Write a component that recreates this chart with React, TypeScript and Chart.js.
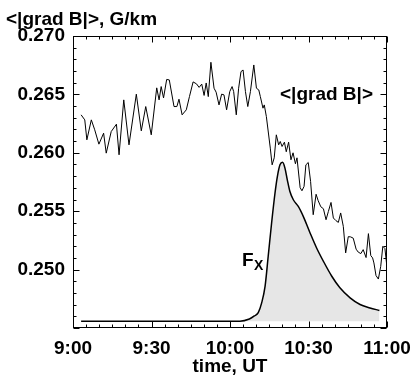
import React, { useEffect, useRef } from 'react';
import { Chart, registerables } from 'chart.js';

Chart.register(...registerables);

// time in minutes after 9:00 UT
const gradTime = [
  3.1, 4.5, 5.3, 7.0, 8.3, 9.9, 11.7, 12.7, 14.6, 16.6,
  17.6, 19.4, 21.4, 24.2, 26.1, 27.8, 29.9, 32.0, 32.9, 33.7,
  34.6, 35.8, 36.8, 38.6, 39.7, 40.5, 41.7, 43.3, 44.5, 45.9,
  47.2, 48.2, 49.2, 50.1, 50.9, 51.7, 52.7, 53.9, 54.7, 55.8,
  56.8, 57.7, 58.7, 59.9, 60.8, 61.4, 62.4, 63.3, 64.2, 65.0,
  65.9, 66.8, 67.8, 69.1, 70.1, 71.0, 71.6, 72.6, 73.1, 73.9,
  75.4, 76.1, 76.9, 77.7, 78.6, 79.2, 79.9, 80.8, 81.5, 82.4,
  83.3, 84.1, 85.0, 85.6, 86.8, 87.5, 88.3, 89.0, 89.9, 90.8,
  91.8, 92.9, 93.7, 94.7, 95.7, 96.7, 97.6, 98.6, 99.5, 100.5,
  101.4, 102.3, 103.3, 104.2, 105.2, 106.1, 107.1, 108.2, 109.0, 110.0,
  110.9, 112.0, 112.9, 113.8, 114.5, 115.0, 115.8, 116.7, 117.6, 118.4,
  119.2, 120.0,
];

const gradValue = [
  0.26325, 0.26282, 0.26111, 0.26282, 0.26197, 0.26074, 0.26168, 0.25997, 0.26182, 0.26245,
  0.25983, 0.26453, 0.26068, 0.26502, 0.26188, 0.26396, 0.26154, 0.26556, 0.26453, 0.26567,
  0.26470, 0.26628, 0.26624, 0.26396, 0.26396, 0.26459, 0.26325, 0.26368, 0.26481, 0.26607,
  0.26590, 0.26560, 0.26588, 0.26491, 0.26598, 0.26481, 0.26775, 0.26553, 0.26519, 0.26410,
  0.26502, 0.26496, 0.26368, 0.26524, 0.26567, 0.26524, 0.26325, 0.26553, 0.26695, 0.26709,
  0.26524, 0.26396, 0.26524, 0.26752, 0.26553, 0.26538, 0.26481, 0.26382, 0.26410, 0.26310,
  0.26040, 0.25897, 0.25957, 0.26154, 0.26068, 0.26097, 0.26054, 0.26091, 0.26009, 0.26091,
  0.25940, 0.26000, 0.25906, 0.25957, 0.25701, 0.25675, 0.25712, 0.25897, 0.25917, 0.25755,
  0.25470, 0.25645, 0.25590, 0.25538, 0.25521, 0.25427, 0.25498, 0.25575, 0.25442, 0.25419,
  0.25404, 0.25485, 0.25370, 0.25143, 0.25282, 0.25280, 0.25269, 0.25175, 0.25150, 0.25137,
  0.25171, 0.25103, 0.25308, 0.25120, 0.25100, 0.25057, 0.24949, 0.24919, 0.25028, 0.25199,
  0.25180, 0.25017,
];

const fxTime = [
  3.1, 63.8, 67.4, 69.3, 70.8, 72.1, 73.4, 74.6, 75.9, 77.2,
  78.1, 79.1, 80.1, 81.0, 81.9, 82.9, 84.2, 86.1, 88.0, 90.6,
  93.1, 95.7, 98.9, 102.0, 105.9, 109.7, 113.5, 117.1,
];

const fxValue = [
  0.24558, 0.24558, 0.24577, 0.24603, 0.24632, 0.24715, 0.24857, 0.25114, 0.25399, 0.25656,
  0.25797, 0.25897, 0.25919, 0.25869, 0.25769, 0.25669, 0.25598, 0.25541, 0.25456, 0.25314,
  0.25185, 0.25071, 0.24943, 0.24844, 0.24758, 0.24701, 0.24672, 0.24650,
];

const xTickLabels = ['9:00', '9:30', '10:00', '10:30', '11:00'];
const yTickLabels = ['0.250', '0.255', '0.260', '0.265', '0.270'];

const TITLE = '<|grad B|>, G/km';
const X_TITLE = 'time, UT';
const GRAD_LABEL = '<|grad B|>';
const FX_LABEL = 'F';
const FX_SUB = 'X';

const X_MIN = 0, X_MAX = 120, X_STEP = 30, X_MINOR = 5;
const Y_MIN = 0.245, Y_MAX = 0.270, Y_STEP = 0.005, Y_MINOR = 0.001;

const FONT = "'Liberation Sans', Arial, Helvetica, sans-serif";

const framePlugin = {
  id: 'frameTicks',
  afterDatasetsDraw(chart: any) {
    const { ctx, chartArea: a, scales } = chart;
    const xs = scales.x;
    const ys = scales.y;
    ctx.save();
    ctx.strokeStyle = '#000';
    ctx.lineWidth = 1;
    const L = Math.round(a.left) + 0.5;
    const R = Math.round(a.right) - 0.5;
    const T = Math.round(a.top) + 0.5;
    const B = Math.round(a.bottom) - 0.5;
    ctx.strokeRect(L, T, R - L, B - T);
    ctx.beginPath();
    const nx = Math.round((X_MAX - X_MIN) / X_MINOR);
    const perMajorX = Math.round(X_STEP / X_MINOR);
    for (let i = 0; i <= nx; i++) {
      const px = Math.round(xs.getPixelForValue(X_MIN + i * X_MINOR)) + 0.5;
      const len = i % perMajorX === 0 ? 6 : 3;
      ctx.moveTo(px, B);
      ctx.lineTo(px, B - len);
      ctx.moveTo(px, T);
      ctx.lineTo(px, T + len);
    }
    const ny = Math.round((Y_MAX - Y_MIN) / Y_MINOR);
    const perMajorY = Math.round(Y_STEP / Y_MINOR);
    for (let i = 0; i <= ny; i++) {
      const py = Math.round(ys.getPixelForValue(Y_MIN + i * Y_MINOR)) + 0.5;
      const len = i % perMajorY === 0 ? 6 : 3;
      ctx.moveTo(L, py);
      ctx.lineTo(L + len, py);
      ctx.moveTo(R, py);
      ctx.lineTo(R - len, py);
    }
    ctx.stroke();
    ctx.restore();
  },
  afterDraw(chart: any) {
    const { ctx, scales } = chart;
    const xs = scales.x;
    const ys = scales.y;
    ctx.save();
    ctx.fillStyle = '#000';
    ctx.textBaseline = 'alphabetic';
    ctx.textAlign = 'left';
    ctx.font = `bold 19px ${FONT}`;
    ctx.fillText(TITLE, 6, 25);
    // series label
    ctx.fillText(GRAD_LABEL, xs.getPixelForValue(79.1), ys.getPixelForValue(0.26453));
    // Fx label
    const fx = xs.getPixelForValue(69);
    const fy = ys.getPixelForValue(0.25034);
    ctx.textAlign = 'right';
    ctx.fillText(FX_LABEL, fx, fy);
    ctx.textAlign = 'left';
    ctx.font = `bold 14px ${FONT}`;
    ctx.fillText(FX_SUB, fx + 0.5, fy + 4.7);
    ctx.restore();
  },
};

export default function App() {
  const ref = useRef<HTMLCanvasElement>(null);
  useEffect(() => {
    document.body.style.margin = '0';
    const canvas = ref.current;
    if (!canvas) return;
    const tickFont = { family: FONT, size: 19, weight: 'bold' as const, lineHeight: 1.2 };
    const chart = new Chart(canvas, {
      type: 'line',
      data: {
        datasets: [
          {
            label: 'grad',
            data: gradTime.map((t, i) => ({ x: t, y: gradValue[i] })),
            borderColor: '#000',
            borderWidth: 1,
            pointRadius: 0,
            fill: false,
            tension: 0,
          },
          {
            label: 'Fx',
            data: fxTime.map((t, i) => ({ x: t, y: fxValue[i] })),
            borderColor: '#000',
            borderWidth: 1.5,
            pointRadius: 0,
            backgroundColor: '#e6e6e6',
            fill: { value: fxValue[0] },
            cubicInterpolationMode: 'monotone',
          },
        ],
      },
      options: {
        responsive: false,
        animation: false,
        events: [],
        layout: { padding: { top: 36, right: 25, left: 0, bottom: 0 } },
        plugins: {
          legend: { display: false },
          tooltip: { enabled: false },
        },
        scales: {
          x: {
            type: 'linear',
            min: X_MIN,
            max: X_MAX,
            grid: { display: false, drawTicks: false },
            border: { display: false },
            ticks: {
              stepSize: X_STEP,
              autoSkip: false,
              maxRotation: 0,
              padding: 9,
              color: '#000',
              font: tickFont,
              callback: (v: any) => {
                const n = Number(v);
                if (Math.abs(n % X_STEP) > 1e-6) return '';
                return xTickLabels[Math.round((n - X_MIN) / X_STEP)] ?? '';
              },
            },
            title: {
              display: true,
              text: X_TITLE,
              color: '#000',
              font: tickFont,
              padding: { top: 0, bottom: 3 },
            },
            afterFit: (s: any) => {
              s.height = 53;
              s.paddingLeft = 0;
              s.paddingRight = 0;
            },
          },
          y: {
            type: 'linear',
            min: Y_MIN,
            max: Y_MAX,
            grid: { display: false, drawTicks: false },
            border: { display: false },
            ticks: {
              stepSize: Y_STEP,
              autoSkip: false,
              padding: 8,
              color: '#000',
              font: tickFont,
              callback: (v: any) => {
                const s = Number(v).toFixed(3);
                return yTickLabels.includes(s) ? s : '';
              },
            },
            afterFit: (s: any) => {
              s.width = 73;
              s.paddingTop = 0;
              s.paddingBottom = 0;
            },
          },
        },
      },
      plugins: [framePlugin],
    } as any);
    return () => chart.destroy();
  }, []);
  return <canvas ref={ref} width={412} height={381} style={{ display: 'block' }} />;
}
